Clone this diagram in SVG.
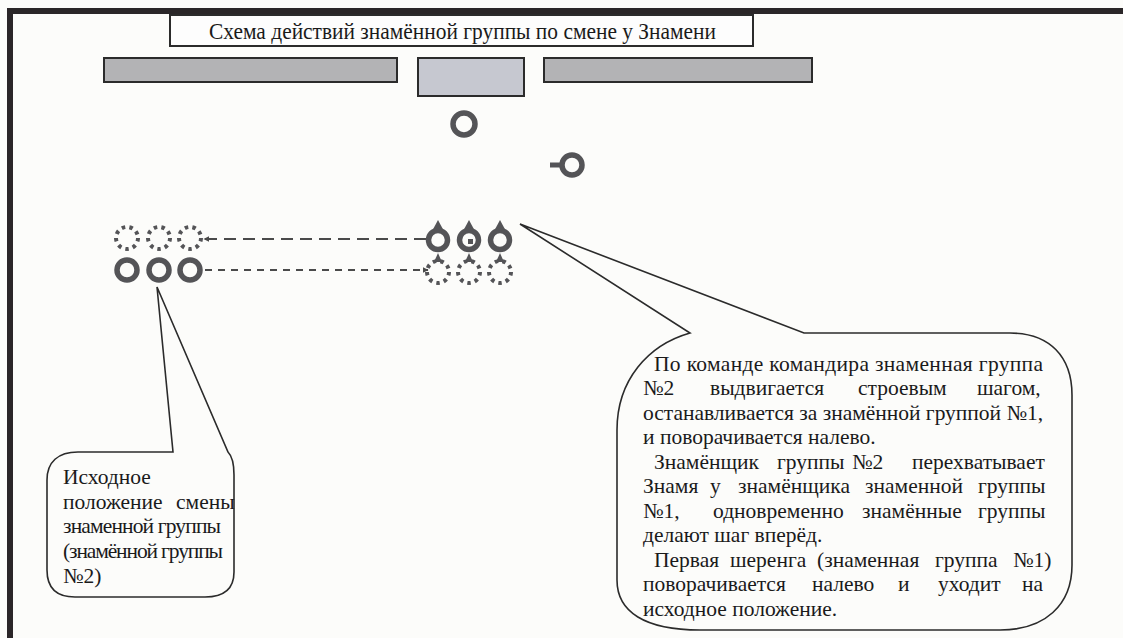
<svg xmlns="http://www.w3.org/2000/svg" width="1123" height="638" viewBox="0 0 1123 638">
<style>
.serif{font-family:"Liberation Serif","Times New Roman",serif;fill:#1a1a1a}
.body{font-size:21.5px}
.ring{fill:none;stroke:#545457;stroke-width:5.5}
.dots{fill:none;stroke:#545457;stroke-width:4;stroke-dasharray:3.5 4.2}
.mark{fill:#545457}
.bar{fill:#b3b3b5;stroke:#2b2b2b;stroke-width:2}
.callout{fill:none;stroke:#2b2b2b;stroke-width:1.6}
.dash1{stroke:#4a4a4a;stroke-width:2;stroke-dasharray:12 7;fill:none}
.dash2{stroke:#4a4a4a;stroke-width:2;stroke-dasharray:7 6;fill:none}
</style>
<defs>
<marker id="ah" viewBox="0 0 10 10" refX="9" refY="5" markerWidth="6" markerHeight="6" orient="auto" markerUnits="userSpaceOnUse">
<path d="M0,0 L10,5 L0,10 Z" fill="#4a4a4a"/>
</marker>
</defs>
<rect x="0" y="0" width="1123" height="638" fill="#fcfcfa"/>
<g id="frame">
<line x1="7" y1="11" x2="1123" y2="11" stroke="#2a2628" stroke-width="6"/>
<line x1="10" y1="8" x2="10" y2="638" stroke="#2a2628" stroke-width="6"/>
</g>
<g id="title">
<rect x="170" y="15" width="583" height="31" fill="#fdfdfd" stroke="#2b2b2b" stroke-width="2"/>
<text class="serif" x="209" y="38.5" font-size="23" textLength="507" lengthAdjust="spacingAndGlyphs">Схема действий знамённой группы по смене у Знамени</text>
</g>
<g id="bars">
<rect class="bar" x="104" y="58" width="293" height="24"/>
<rect x="418" y="58" width="106" height="38" fill="#c6c8d0" stroke="#2b2b2b" stroke-width="2"/>
<rect class="bar" x="544" y="58" width="268" height="24"/>
</g>
<g id="commander">
<circle class="ring" cx="464" cy="124" r="11"/>
</g>
<g id="assistant">
<circle class="ring" cx="572" cy="165" r="10"/>
<line x1="550" y1="165" x2="562" y2="165" stroke="#545457" stroke-width="5"/>
</g>
<g id="group1">
<circle class="ring" cx="438" cy="240" r="9.5"/>
<path class="mark" d="M438,220 L445,233 L431,233 Z"/>
<path class="mark" d="M438,253 L442,262 L434,262 Z"/>
<circle class="ring" cx="469" cy="240" r="9.5"/>
<path class="mark" d="M469,220 L476,233 L462,233 Z"/>
<path class="mark" d="M469,253 L473,262 L465,262 Z"/>
<rect class="mark" x="468" y="239" width="5" height="5"/>
<circle class="ring" cx="500" cy="240" r="9.5"/>
<path class="mark" d="M500,220 L507,233 L493,233 Z"/>
<path class="mark" d="M500,253 L504,262 L496,262 Z"/>
<circle class="dots" cx="438" cy="272" r="11"/>
<circle class="dots" cx="469" cy="272" r="11"/>
<circle class="dots" cx="500" cy="272" r="11"/>
</g>
<g id="group2">
<circle class="dots" cx="127" cy="238" r="11"/>
<circle class="dots" cx="159" cy="238" r="11"/>
<circle class="dots" cx="190" cy="238" r="11"/>
<circle class="ring" cx="127" cy="270" r="10"/>
<circle class="ring" cx="159" cy="270" r="10"/>
<circle class="ring" cx="190" cy="270" r="10"/>
</g>
<g id="connectors">
<line class="dash1" x1="426" y1="239" x2="204" y2="239" marker-end="url(#ah)"/>
<line class="dash2" x1="205" y1="270" x2="428" y2="270" marker-end="url(#ah)"/>
</g>
<g id="callout-right">
<path class="callout" d="M690,333 C648,345 617,380 617,430 L617,580 C617,612 645,630 700,630 L1000,630 C1045,630 1072,605 1072,565 L1072,395 C1072,357 1050,333 1010,333 L804,333 L520,224 Z"/>
<text class="serif body" x="654" y="371" textLength="389" lengthAdjust="spacing">По команде командира знаменная группа</text>
<text class="serif body" y="395"><tspan x="643">№2</tspan><tspan x="710">выдвигается</tspan><tspan x="858">строевым</tspan><tspan x="977">шагом,</tspan></text>
<text class="serif body" x="643" y="420" textLength="400" lengthAdjust="spacing">останавливается за знамённой группой №1,</text>
<text class="serif body" x="643" y="444">и поворачивается налево.</text>
<text class="serif body" y="469"><tspan x="654">Знамёнщик</tspan><tspan x="777">группы</tspan><tspan x="852">№2</tspan><tspan x="912">перехватывает</tspan></text>
<text class="serif body" y="493"><tspan x="643">Знамя</tspan><tspan x="710">у</tspan><tspan x="738">знамёнщика</tspan><tspan x="865">знаменной</tspan><tspan x="978">группы</tspan></text>
<text class="serif body" y="518"><tspan x="643">№1,</tspan><tspan x="713">одновременно</tspan><tspan x="862">знамённые</tspan><tspan x="978">группы</tspan></text>
<text class="serif body" x="643" y="542">делают шаг вперёд.</text>
<text class="serif body" y="567"><tspan x="654">Первая</tspan><tspan x="730">шеренга</tspan><tspan x="817">(знаменная</tspan><tspan x="935">группа</tspan><tspan x="1013">№1)</tspan></text>
<text class="serif body" y="591"><tspan x="643">поворачивается</tspan><tspan x="812">налево</tspan><tspan x="898">и</tspan><tspan x="938">уходит</tspan><tspan x="1022">на</tspan></text>
<text class="serif body" x="643" y="616">исходное положение.</text>
</g>
<g id="callout-left">
<path class="callout" d="M173,452 L157,287 L228,452 C232,456 234,464 234,475 L234,572 C234,590 222,597 205,597 L75,597 C56,597 47,587 47,570 L47,480 C47,462 58,452 78,452 Z"/>
<text class="serif body" x="63" y="484">Исходное</text>
<text class="serif body" y="509"><tspan x="63">положение</tspan><tspan x="176">смены</tspan></text>
<text class="serif body" x="63" y="533" textLength="158" lengthAdjust="spacing">знаменной группы</text>
<text class="serif body" x="63" y="558" textLength="160" lengthAdjust="spacing">(знамённой группы</text>
<text class="serif body" x="63" y="583">№2)</text>
</g>
</svg>
